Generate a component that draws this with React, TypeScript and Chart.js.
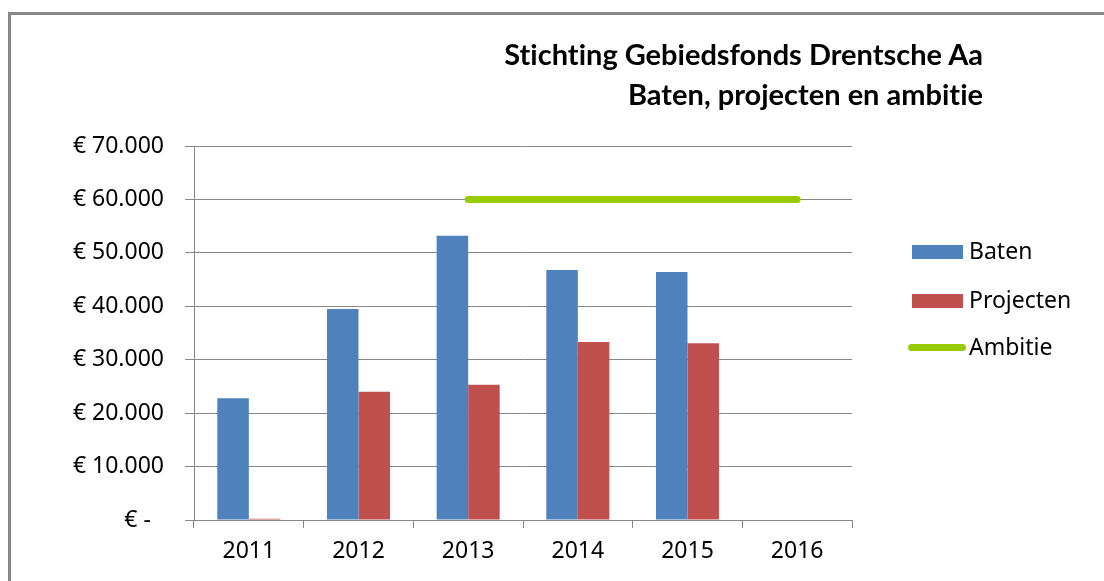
import React, { useEffect, useRef } from "react";
import { Chart, registerables } from "chart.js";

Chart.register(...registerables);

const categories = ["2011", "2012", "2013", "2014", "2015", "2016"];
const baten = [22800, 39500, 53200, 46800, 46400, null];
const projecten = [250, 24000, 25300, 33300, 33100, null];
const ambitie = [null, null, 60000, 60000, 60000, 60000];
const titleLines = ["Stichting Gebiedsfonds Drentsche Aa", "Baten, projecten en ambitie"];
const yMin = 0;
const yMax = 70000;
const yStep = 10000;

const BLUE = "#4F81BD";
const RED = "#C0504D";
const GREEN = "#99CC00";
const GRID = "#868686";

const seriesNames = ["Baten", "Projecten", "Ambitie"];

function fmtEuro(v: number): string {
  if (v === 0) return "€ -\u2007";
  return "€ " + String(v).replace(/\B(?=(\d{3})+(?!\d))/g, ".");
}

export default function App() {
  const ref = useRef<HTMLCanvasElement | null>(null);

  useEffect(() => {
    if (!ref.current) return;
    const chart = new Chart(ref.current, {
      type: "bar",
      data: {
        labels: categories,
        datasets: [
          {
            type: "bar",
            label: seriesNames[0],
            data: baten,
            backgroundColor: BLUE,
            borderWidth: 0,
            categoryPercentage: 0.575,
            barPercentage: 1,
          },
          {
            type: "bar",
            label: seriesNames[1],
            data: projecten,
            backgroundColor: RED,
            borderWidth: 0,
            categoryPercentage: 0.575,
            barPercentage: 1,
          },
          {
            type: "line",
            label: seriesNames[2],
            data: ambitie,
            borderColor: GREEN,
            backgroundColor: GREEN,
            borderWidth: 7,
            borderCapStyle: "round",
            pointRadius: 0,
            fill: false,
            spanGaps: false,
          },
        ],
      } as any,
      options: {
        responsive: false,
        animation: false,
        devicePixelRatio: 1,
        layout: { padding: { left: 0, top: 146, right: 252, bottom: 0 } },
        plugins: {
          legend: { display: false },
          title: { display: false },
          tooltip: { enabled: false },
        },
        scales: {
          x: {
            offset: true,
            grid: {
              display: true,
              offset: true,
              drawOnChartArea: false,
              drawTicks: true,
              tickLength: 8,
              color: GRID,
              lineWidth: 1,
            },
            border: { display: true, color: GRID, width: 1 },
            ticks: {
              color: "#000",
              font: { family: "Noto Sans", size: 23 },
              padding: 10,
              maxRotation: 0,
            },
            afterFit: (s: any) => {
              s.height = 61;
            },
          },
          y: {
            min: yMin,
            max: yMax,
            grid: {
              color: GRID,
              lineWidth: 1,
              drawTicks: true,
              tickLength: 9,
            },
            border: { display: true, color: GRID, width: 1 },
            ticks: {
              stepSize: yStep,
              color: "#000",
              font: { family: "Noto Sans", size: 23 },
              padding: 21,
              callback: (v: any) => fmtEuro(Number(v)),
            },
            afterFit: (s: any) => {
              s.width = 194;
            },
          },
        },
      },
    });
    return () => chart.destroy();
  }, []);

  const legendItems = [
    { name: seriesNames[0], color: BLUE, kind: "box" },
    { name: seriesNames[1], color: RED, kind: "box" },
    { name: seriesNames[2], color: GREEN, kind: "line" },
  ];
  const legendTops = [239, 288, 335];

  return (
    <div
      style={{
        position: "fixed",
        left: 0,
        top: 0,
        width: 1104,
        height: 581,
        overflow: "hidden",
        background: "#fff",
      }}
    >
      <div
        style={{
          position: "absolute",
          left: 8,
          top: 12,
          width: 1300,
          height: 800,
          border: "3px solid #878787",
        }}
      />
      <canvas
        ref={ref}
        width={1104}
        height={581}
        style={{ position: "absolute", left: 0, top: 0, width: 1104, height: 581 }}
      />
      {titleLines.map((t, i) => (
        <div
          key={i}
          style={{
            position: "absolute",
            right: 121,
            top: 39 + i * 40,
            fontFamily: "Lato",
            fontWeight: 700,
            fontSize: 29,
            lineHeight: 1,
            whiteSpace: "nowrap",
            color: "#000",
            textAlign: "right",
            fontVariantLigatures: "none",
          }}
        >
          {t}
        </div>
      ))}
      {legendItems.map((it, i) => (
        <div key={it.name}>
          {it.kind === "box" ? (
            <div
              style={{
                position: "absolute",
                left: 912,
                top: legendTops[i] + 6,
                width: 51,
                height: 14,
                background: it.color,
              }}
            />
          ) : (
            <div
              style={{
                position: "absolute",
                left: 908,
                top: legendTops[i] + 9,
                width: 58,
                height: 7,
                borderRadius: 4,
                background: it.color,
              }}
            />
          )}
          <div
            style={{
              position: "absolute",
              left: 969,
              top: legendTops[i],
              fontFamily: "Noto Sans",
              fontSize: 23,
              lineHeight: 1,
              whiteSpace: "nowrap",
              color: "#000",
            }}
          >
            {it.name}
          </div>
        </div>
      ))}
    </div>
  );
}
